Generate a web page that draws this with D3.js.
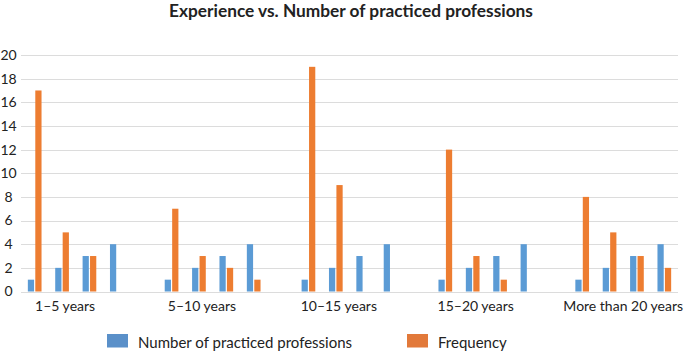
<!DOCTYPE html>
<html>
<head>
<meta charset="utf-8">
<script src="https://cdn.jsdelivr.net/npm/d3@7"></script>
<style>
  body { margin: 0; background: #fff; }
  text { font-family: Lato, "Noto Sans", sans-serif; fill: #222; }
</style>
</head>
<body>
<div id="chart"></div>
<script>
const width = 685;
const height = 352;

// data
const groups = ["1–5 years", "5–10 years", "10–15 years", "15–20 years", "More than 20 years"];
const professions = [1, 2, 3, 4];
const freq1to5 = [17, 5, 3, 0];
const freq5to10 = [7, 3, 2, 1];
const freq10to15 = [19, 9, 0, 0];
const freq15to20 = [12, 3, 1, 0];
const freqOver20 = [8, 5, 3, 2];
const frequencies = [freq1to5, freq5to10, freq10to15, freq15to20, freqOver20];
const yTicks = [0, 2, 4, 6, 8, 10, 12, 14, 16, 18, 20];
const seriesNames = ["Number of practiced professions", "Frequency"];
const colors = {prof: "#5b9bd5", freq: "#ed7d31"};

// one row per table line, a blank row between groups (like the sheet)
let rows = [];
groups.forEach(function(g, gi) {
  professions.forEach(function(p, pi) {
    rows.push({id: gi + "-" + pi, group: g, first: pi == 1, prof: p, freq: frequencies[gi][pi]});
  });
  if (gi < groups.length - 1) rows.push({id: gi + "-gap", blank: true});
});

const margin = {top: 55, right: 7, bottom: 60, left: 21};

let svg = d3.select("#chart")
  .append("svg")
    .attr("width", width)
    .attr("height", height);

let x = d3.scaleBand()
  .domain(rows.map(d => d.id))
  .range([margin.left, width - margin.right])
  .padding(0);

let xSub = d3.scaleBand()
  .domain(["prof", "freq"])
  .range([0, x.bandwidth()])
  .paddingInner(0)
  .paddingOuter(1);

let y = d3.scaleLinear()
  .domain([0, 20])
  .range([291.5, margin.top]);

// gridlines
svg.append("g")
  .selectAll("line")
  .data(yTicks)
  .enter()
  .append("line")
    .attr("x1", margin.left)
    .attr("x2", width - margin.right)
    .attr("y1", d => Math.round(y(d)) + 0.5)
    .attr("y2", d => Math.round(y(d)) + 0.5)
    .attr("stroke", "#dcdcdc")
    .attr("stroke-width", 1.2);

// y tick labels
svg.append("g")
  .selectAll("text")
  .data(yTicks)
  .enter()
  .append("text")
    .text(d => d)
    .attr("x", 8.5)
    .attr("y", d => y(d))
    .attr("dy", "0.35em")
    .attr("text-anchor", "middle")
    .attr("font-size", "14px");

// bars
let barRows = rows.filter(d => !d.blank);
let bars = svg.append("g")
  .selectAll("g")
  .data(barRows)
  .enter()
  .append("g")
    .attr("transform", d => "translate(" + x(d.id) + ",0)");

bars.selectAll("rect")
  .data(d => ["prof", "freq"].map(k => ({key: k, value: d[k]})))
  .enter()
  .append("rect")
    .attr("x", d => xSub(d.key) + (d.key == "freq" ? 0.6 : 0))
    .attr("width", xSub.bandwidth() - 0.6)
    .attr("y", d => y(d.value))
    .attr("height", d => y(0) - y(d.value))
    .attr("fill", d => colors[d.key]);

// category labels, one per group
svg.append("g")
  .selectAll("text")
  .data(rows.filter(d => d.first))
  .enter()
  .append("text")
    .text(d => d.group)
    .attr("x", function(d, i) {
      if (i == groups.length - 1) return width - 2;
      return x(d.id) + x.bandwidth() / 2 + 3;
    })
    .attr("y", 310.5)
    .attr("text-anchor", (d, i) => i == groups.length - 1 ? "end" : "middle")
    .attr("font-size", "14px");

// title
svg.append("text")
  .text("Experience vs. Number of practiced professions")
  .attr("x", 351)
  .attr("y", 16.5)
  .attr("text-anchor", "middle")
  .attr("font-size", "17.3px")
  .attr("font-weight", "bold");

// legend
let legendX = [107, 407];
let legend = svg.append("g")
  .selectAll("g")
  .data(seriesNames)
  .enter()
  .append("g")
    .attr("transform", (d, i) => "translate(" + legendX[i] + ",334)");
legend.append("rect")
  .attr("width", 21)
  .attr("height", 13.5)
  .attr("fill", (d, i) => i == 0 ? "#5a90c9" : "#e2793a");
legend.append("text")
  .text(d => d)
  .attr("x", 31)
  .attr("y", 13.5)
  .attr("font-size", "15px");
</script>
</body>
</html>
